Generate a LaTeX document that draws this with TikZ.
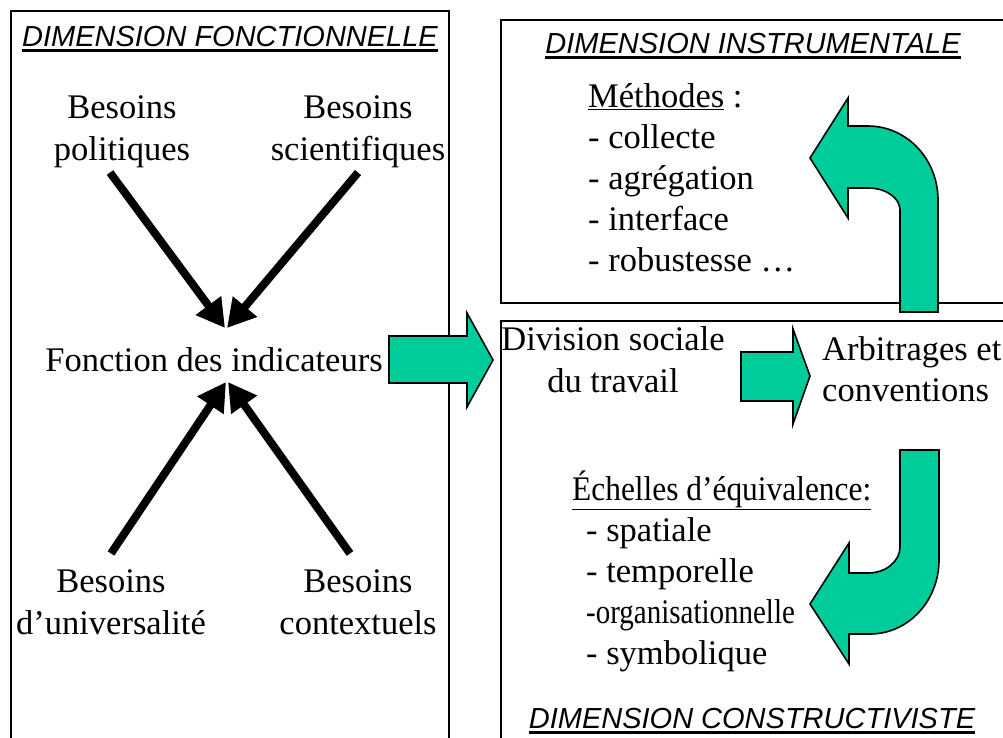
\documentclass[tikz,border=0pt]{standalone}
\usepackage{fontspec}
\setmainfont{Liberation Serif}
\newfontfamily\dimfont{Liberation Sans}
\usetikzlibrary{arrows.meta, positioning}
\definecolor{arrgreen}{RGB}{0, 204, 153}

\tikzset{
  txt/.style={font=\fontsize{34.5}{41.5}\selectfont, inner sep=0pt, align=center},
  lst/.style={font=\fontsize{34.5}{41}\selectfont, inner sep=0pt, align=left},
  dimtitle/.style={font=\dimfont\itshape\fontsize{29}{34}\selectfont, inner sep=0pt, anchor=base},
  frame/.style={line width=1.8pt},
  need/.style={line width=8pt, -{Triangle[length=28pt, width=30pt]}},
  bigarrow/.style={fill=arrgreen, draw=black, line width=1.6pt, line join=miter},
  uline/.style={line width=2.5pt},
}

\begin{document}
\begin{tikzpicture}[x=1pt, y=-1pt]
  \useasboundingbox (0,0) rectangle (1003,737);

  % Frames (open at the bottom / right)
  \draw[frame] (11,745) -- (11,11) -- (449,11) -- (449,745);
  \draw[frame] (1010,20) -- (501,20) -- (501,303) -- (1010,303);
  \draw[frame] (1010,321) -- (501,321) -- (501,745);

  % Titles
  \node[dimtitle] (tfonc) at (230,46) {DIMENSION FONCTIONNELLE};
  \draw[uline] ([yshift=-4.5pt]tfonc.base west) -- ([yshift=-4.5pt]tfonc.base east);
  \node[dimtitle] (tinst) at (753,53) {DIMENSION INSTRUMENTALE};
  \draw[uline] ([yshift=-4.5pt]tinst.base west) -- ([yshift=-4.5pt]tinst.base east);
  \node[dimtitle] (tcons) at (752,728) {DIMENSION CONSTRUCTIVISTE};
  \draw[uline] ([yshift=-4.5pt]tcons.base west) -- ([yshift=-4.5pt]tcons.base east);

  % Needs (base = last line)
  \node[txt, anchor=base] (polit) at (122,160) {Besoins\\politiques};
  \node[txt, anchor=base] (scient) at (358,160) {Besoins\\scientifiques};
  \node[txt, anchor=base] (fonct) at (214,371) {Fonction des indicateurs};
  \node[txt, anchor=base] (univ) at (111,634) {Besoins\\d’universalité};
  \node[txt, anchor=base] (cont) at (358,634) {Besoins\\contextuels};

  \coordinate (ftop) at (226,328);
  \coordinate (fbot) at (227,382);
  \draw[need] ([xshift=-12pt,yshift=-5pt]polit.south) -- ([xshift=-1pt]ftop);
  \draw[need] ([yshift=-5pt]scient.south) -- ([xshift=1pt]ftop);
  \draw[need] ([yshift=16pt]univ.north) -- ([xshift=-1pt]fbot);
  \draw[need] ([xshift=-8pt,yshift=16pt]cont.north) -- ([xshift=1pt]fbot);

  % Right side
  \node[lst, anchor=base west] (meth) at (588,271) {\underline{Méthodes} :\\- collecte\\- agrégation\\- interface\\- robustesse …};
  \node[txt, anchor=base] (divis) at (613,392) {Division sociale\\du travail};
  \node[lst, anchor=base west] (arbit) at (822,401) {Arbitrages et\\conventions};
  \node[lst, anchor=base west] (echel) at (572,500) {\scalebox{0.91}[1]{\underline{Échelles d’équivalence:}}};
  \node[lst, anchor=base west] (dims) at (586,664) {- spatiale\\- temporelle\\\scalebox{0.84}[1]{-organisationnelle}\\- symbolique};

  % Block arrows
  \draw[bigarrow] (389,336) -- (467,336) -- (467,313) -- (493,360) -- (467,407) -- (467,383) -- (389,383) -- cycle;
  \draw[bigarrow] (741,352) -- (793,352) -- (793,329) -- (810,376) -- (793,424) -- (793,401) -- (741,401) -- cycle;
  \draw[bigarrow] (900,312) -- (900,210) .. controls (900,197.8) and (885.7,188) .. (868,188)
    -- (848,188) -- (848,218) -- (810,158) -- (848,98) -- (848,126) -- (868,126)
    .. controls (906.7,126) and (938,159.1) .. (938,200) -- (938,312) -- cycle;
  \draw[bigarrow] (900,450) -- (900,547) .. controls (900,561.4) and (885.7,573) .. (868,573)
    -- (849,573) -- (849,543) -- (810,604) -- (849,664) -- (849,634) -- (870,634)
    .. controls (908.1,634) and (939,600.9) .. (939,560) -- (939,450) -- cycle;
\end{tikzpicture}
\end{document}
